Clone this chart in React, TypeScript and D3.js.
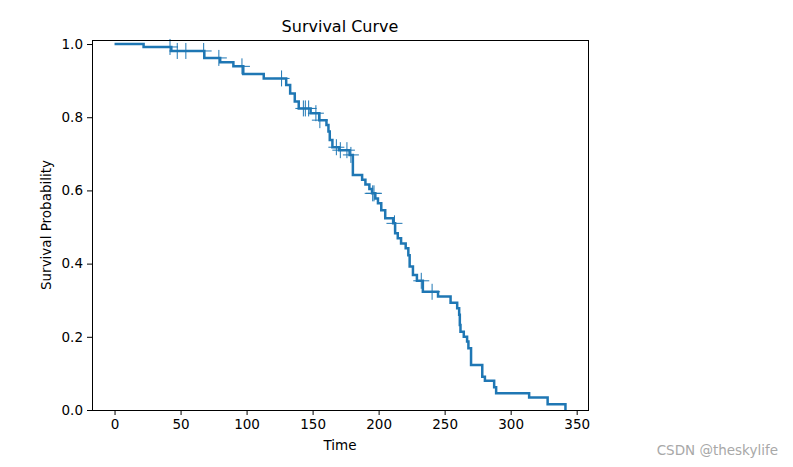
import { useEffect, useRef } from 'react';

import * as d3 from 'd3';

const width = 793;
const height = 467;
const [ml, mr, mt, mb] = [92, 205, 40, 57];

// step times and survival after each step (steps-post)
const times = [
    0, 22, 43, 68, 80, 90, 97.5, 113, 130, 133, 136.5, 139.5, 148.5, 155, 160.5, 162, 163, 165, 170, 178, 180.5, 187.5,
    190, 193, 195, 197.5, 199.5, 202, 205, 211, 212.5, 214.5, 217, 220.5, 222.5, 223.5, 226, 229, 233.5, 245, 254.5,
    259.5, 261, 261.5, 262, 264.5, 267, 268, 270, 278.5, 280.5, 287.5, 289, 314, 328, 341.5
];
const survival = [
    1.0, 0.992, 0.981, 0.962, 0.95, 0.939, 0.918, 0.906, 0.888, 0.865, 0.843, 0.824, 0.811, 0.792, 0.779, 0.761, 0.738,
    0.718, 0.71, 0.697, 0.642, 0.629, 0.616, 0.604, 0.592, 0.578, 0.565, 0.546, 0.524, 0.51, 0.483, 0.469, 0.455, 0.442,
    0.423, 0.392, 0.369, 0.353, 0.323, 0.31, 0.293, 0.278, 0.26, 0.232, 0.214, 0.2, 0.187, 0.169, 0.123, 0.091, 0.08,
    0.062, 0.046, 0.034, 0.016, 0.0
];
// censored observations
const censored = [
    42, 47.5, 54, 67.5, 79, 96.5, 126.5, 143, 144.5, 147, 152.5, 155.5, 168, 171, 176, 179, 195.5, 196.5, 212, 232.3,
    240.5
];
const xTicks = [0, 50, 100, 150, 200, 250, 300, 350];
const yTicks = [0, 0.2, 0.4, 0.6, 0.8, 1.0];

const blue = '#1f77b4';
const font = 'DejaVu Sans, sans-serif';

export default function App() {
    const ref = useRef<SVGSVGElement>(null);

    useEffect(() => {
        document.body.style.margin = '0';
        const svg = d3.select(ref.current);
        svg.selectAll('*').remove();

        const tMax = d3.max(times)!;
        const pad = tMax * 0.05;
        const x = d3
            .scaleLinear()
            .domain([-pad, tMax + pad])
            .range([ml, width - mr]);
        const y = d3
            .scaleLinear()
            .domain([0, 1.011])
            .range([height - mb, mt]);

        svg.append('rect').attr('width', width).attr('height', height).attr('fill', '#fff');

        // survival curve, steps-post
        const pts = times.map((t, i) => [t, survival[i]] as [number, number]);
        const line = d3
            .line<[number, number]>()
            .x((d) => x(d[0]))
            .y((d) => y(d[1]))
            .curve(d3.curveStepAfter);
        svg.append('path')
            .attr('d', line(pts))
            .attr('fill', 'none')
            .attr('stroke', blue)
            .attr('stroke-width', 2.5);

        // censor marks
        const bis = d3.bisector((d: number) => d).right;
        const half = 8;
        const marks = svg.append('g').attr('stroke', blue).attr('stroke-width', 1);
        censored.forEach((t) => {
            const s = survival[Math.max(0, bis(times, t) - 1)];
            const cx = x(t);
            const cy = y(s);
            marks.append('line').attr('x1', cx - half).attr('x2', cx + half).attr('y1', cy).attr('y2', cy);
            marks.append('line').attr('x1', cx).attr('x2', cx).attr('y1', cy - half).attr('y2', cy + half);
        });

        // axes
        const xAxis = svg
            .append('g')
            .attr('transform', `translate(0, ${height - mb})`)
            .call(d3.axisBottom(x).tickValues(xTicks).tickSize(5).tickPadding(4).tickFormat(d3.format('d')));
        const yAxis = svg
            .append('g')
            .attr('transform', `translate(${ml}, 0)`)
            .call(d3.axisLeft(y).tickValues(yTicks).tickSize(5).tickPadding(4).tickFormat(d3.format('.1f')));
        [xAxis, yAxis].forEach((g) => {
            g.select('.domain').remove();
            g.selectAll('text').attr('font-family', font).attr('font-size', 13.5).attr('fill', '#000');
            g.selectAll('.tick line').attr('stroke', '#000').attr('stroke-width', 1);
        });

        svg.append('rect')
            .attr('x', ml + 0.5)
            .attr('y', mt + 0.5)
            .attr('width', width - mr - ml)
            .attr('height', height - mb - mt)
            .attr('fill', 'none')
            .attr('stroke', '#000')
            .attr('stroke-width', 1);

        // labels
        const cx = (ml + width - mr) / 2;
        svg.append('text')
            .attr('x', cx)
            .attr('y', 32)
            .attr('text-anchor', 'middle')
            .attr('font-family', font)
            .attr('font-size', 16)
            .text('Survival Curve');
        svg.append('text')
            .attr('x', cx)
            .attr('y', 450)
            .attr('text-anchor', 'middle')
            .attr('font-family', font)
            .attr('font-size', 13.5)
            .text('Time');
        svg.append('text')
            .attr('transform', `translate(51, ${(mt + height - mb) / 2}) rotate(-90)`)
            .attr('text-anchor', 'middle')
            .attr('font-family', font)
            .attr('font-size', 13.5)
            .text('Survival Probability');

        svg.append('text')
            .attr('x', 778)
            .attr('y', 455)
            .attr('text-anchor', 'end')
            .attr('font-family', font)
            .attr('font-size', 13.5)
            .attr('fill', '#a8a8a8')
            .text('CSDN @theskylife');
    }, []);

    return <svg ref={ref} width={width} height={height} style={{ display: 'block' }} />;
}
